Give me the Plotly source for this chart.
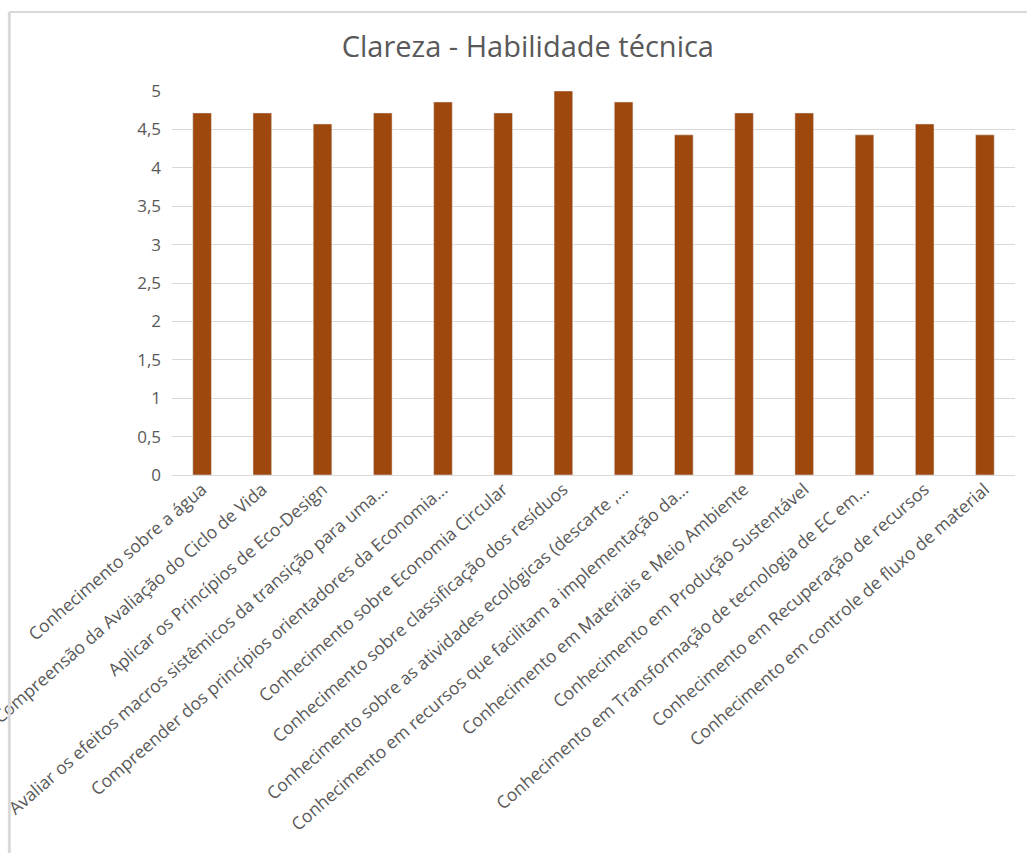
import plotly.graph_objects as go

categories = [
    "Conhecimento sobre a água",
    "Compreensão da Avaliação do Ciclo de Vida",
    "Aplicar os Princípios de Eco-Design",
    "Avaliar os efeitos macros sistêmicos da transição para uma…",
    "Compreender dos princípios orientadores da Economia…",
    "Conhecimento sobre Economia Circular",
    "Conhecimento sobre classificação dos resíduos",
    "Conhecimento sobre as atividades ecológicas (descarte ,…",
    "Conhecimento em recursos que facilitam a implementação da…",
    "Conhecimento em Materiais e Meio Ambiente",
    "Conhecimento em Produção Sustentável",
    "Conhecimento em Transformação de tecnologia de EC em…",
    "Conhecimento em Recuperação de recursos",
    "Conhecimento em controle de fluxo de material",
]
values = [4.714, 4.714, 4.571, 4.714, 4.857, 4.714, 5.0, 4.857, 4.429, 4.714, 4.714, 4.429, 4.571, 4.429]
y_ticks = [0, 0.5, 1, 1.5, 2, 2.5, 3, 3.5, 4, 4.5, 5]

fig = go.Figure(go.Bar(x=categories, y=values, marker_color="#9E480E", width=0.31))

grey = "#595959"
fig.update_layout(
    width=1027, height=853,
    margin=dict(l=172, r=12, t=91, b=378, autoexpand=False),
    paper_bgcolor="white", plot_bgcolor="white",
    separators=",.",
    font=dict(family="Open Sans", size=16, color=grey),
    title=dict(text="Clareza - Habilidade técnica", x=0.514, xanchor="center", y=0.945, yanchor="middle",
               font=dict(family="Open Sans", size=29, color=grey)),
    showlegend=False,
    bargap=0.69,
)
fig.update_xaxes(tickangle=-41, tickfont=dict(size=17.5, color=grey), showline=False, ticks="", automargin=False)
fig.update_yaxes(range=[0, 5], tickvals=y_ticks, showgrid=True, gridcolor="#d9d9d9", gridwidth=1,
                 zeroline=True, zerolinecolor="#d9d9d9", zerolinewidth=1,
                 tickfont=dict(size=17, color=grey), ticks="", ticklabelstandoff=10, automargin=False)

fig.add_shape(type="line", xref="paper", yref="paper", x0=-0.193, x1=-0.193, y0=1.206, y1=-1.2,
              line=dict(color="#d9d9d9", width=3))
fig.add_shape(type="line", xref="paper", yref="paper", x0=-0.193, x1=1.2, y0=1.206, y1=1.206,
              line=dict(color="#d9d9d9", width=2))

fig.write_html("out.html")
